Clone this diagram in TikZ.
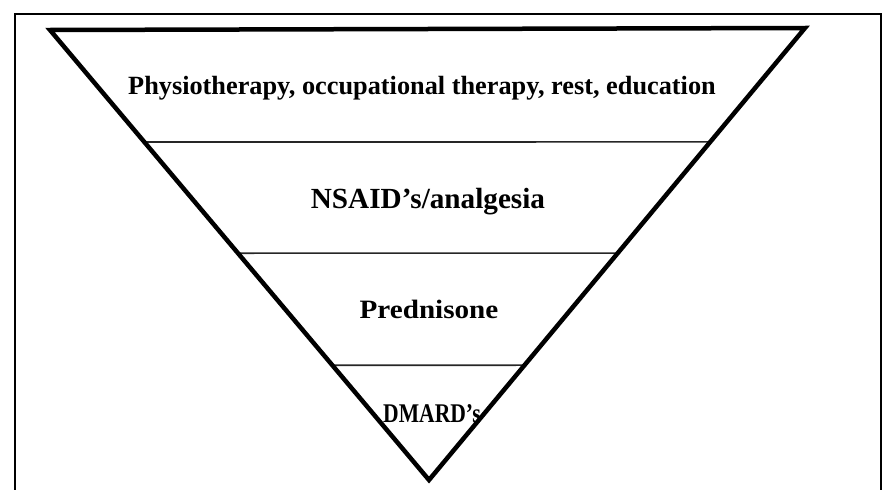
\documentclass[tikz,border=0pt]{standalone}
\usepackage{fontspec}
\setmainfont{Liberation Serif}
\usetikzlibrary{calc}
\begin{document}
\begin{tikzpicture}[x=1pt, y=-1pt,
  frame/.style={draw=black, line width=1.8pt},
  pyr/.style={draw=black, line width=4.5pt, line join=miter},
  band/.style={draw=black!85, line width=1.6pt},
  lbl/.style={anchor=base, inner sep=0pt, font=\bfseries\fontsize{26.3}{31}\selectfont},
]
  \useasboundingbox (0,0) rectangle (884,490);
  \draw[frame] (15,492) -- (15,14) -- (881,14) -- (881,492);
  \coordinate (tl) at (50,30);
  \coordinate (tr) at (805,28);
  \coordinate (tip) at (429,480);
  \draw[band] ($(tl)!0.249!(tip)$) -- ($(tr)!0.252!(tip)$);
  \draw[band] ($(tl)!0.496!(tip)$) -- ($(tr)!0.498!(tip)$);
  \draw[band] ($(tl)!0.745!(tip)$) -- ($(tr)!0.746!(tip)$);
  \draw[pyr] (tl) -- (tr) -- (tip) -- cycle;
  \node[lbl] (physio) at (422,94) {Physiotherapy, occupational therapy, rest, education};
  \node[lbl, font=\bfseries\fontsize{29.2}{34}\selectfont] (nsaid) at (428,208) {NSAID’s/analgesia};
  \node[lbl, font=\bfseries\fontsize{26.5}{31}\selectfont, xscale=1.1] (pred) at (429,318) {Prednisone};
  \node[lbl, font=\bfseries\fontsize{27}{32}\selectfont, xscale=0.8] (dmard) at (432,422) {DMARD’s};
\end{tikzpicture}
\end{document}
